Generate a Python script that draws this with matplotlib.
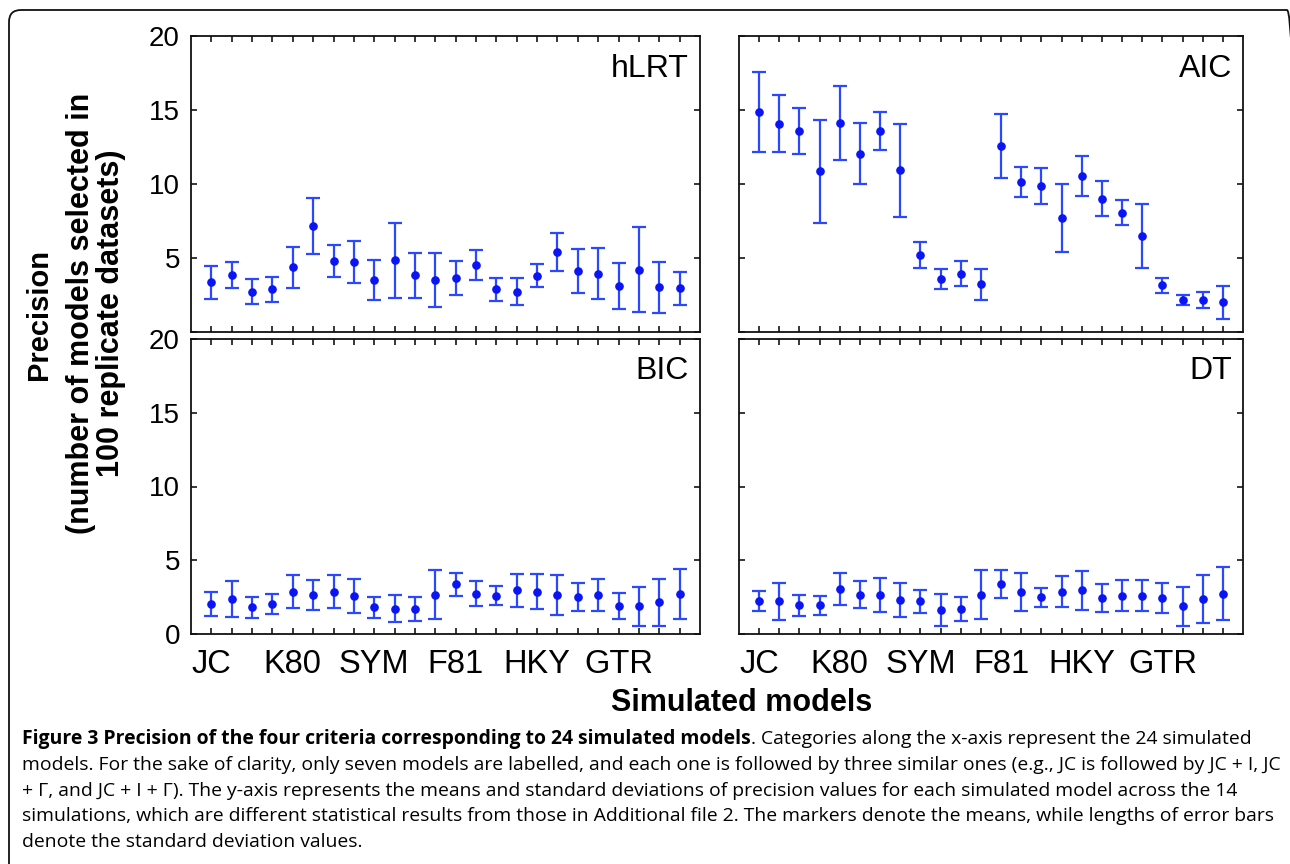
import matplotlib
matplotlib.use('Agg')
import matplotlib.pyplot as plt
from matplotlib.patches import FancyBboxPatch
from matplotlib.transforms import IdentityTransform
import numpy as np

# ---------------- data ----------------
base_models = ['JC', 'K80', 'SYM', 'F81', 'HKY', 'GTR']
variants = ['', ' + I', ' + Γ', ' + I + Γ']
models = [b + v for b in base_models for v in variants]
tick_labels = [m if m in base_models else '' for m in models]

hlrt_mean = [3.36, 3.85, 2.73, 2.88, 4.37, 7.14, 4.80, 4.73, 3.51, 4.84, 3.85, 3.51,
             3.67, 4.53, 2.88, 2.73, 3.81, 5.43, 4.14, 3.94, 3.11, 4.21, 3.02, 2.95]
hlrt_sd = [1.13, 0.87, 0.84, 0.86, 1.38, 1.89, 1.06, 1.45, 1.35, 2.52, 1.52, 1.82,
           1.16, 1.03, 0.76, 0.90, 0.78, 1.28, 1.50, 1.72, 1.57, 2.89, 1.72, 1.13]

aic_mean = [14.84, 14.08, 13.58, 10.86, 14.12, 12.05, 13.58, 10.92, 5.20, 3.58, 3.94, 3.22,
            12.57, 10.14, 9.86, 7.70, 10.56, 9.01, 8.06, 6.49, 3.15, 2.16, 2.16, 2.00]
aic_sd = [2.71, 1.90, 1.54, 3.48, 2.49, 2.08, 1.29, 3.16, 0.89, 0.66, 0.83, 1.06,
          2.16, 1.04, 1.24, 2.31, 1.34, 1.16, 0.83, 2.15, 0.53, 0.36, 0.53, 1.11]

bic_mean = [2.03, 2.36, 1.80, 2.03, 2.86, 2.66, 2.86, 2.59, 1.80, 1.71, 1.71, 2.66,
            3.36, 2.73, 2.59, 2.95, 2.88, 2.66, 2.52, 2.66, 1.87, 1.87, 2.14, 2.73]
bic_sd = [0.79, 1.23, 0.71, 0.70, 1.11, 1.01, 1.11, 1.16, 0.71, 0.92, 0.83, 1.66,
          0.75, 0.83, 0.65, 1.14, 1.17, 1.34, 0.93, 1.08, 0.88, 1.31, 1.57, 1.69]

dt_mean = [2.23, 2.23, 1.94, 1.94, 3.06, 2.66, 2.66, 2.30, 2.21, 1.64, 1.71, 2.66,
           3.36, 2.86, 2.50, 2.86, 2.95, 2.43, 2.59, 2.59, 2.43, 1.87, 2.36, 2.73]
dt_sd = [0.70, 1.25, 0.73, 0.62, 1.07, 0.93, 1.17, 1.15, 0.80, 1.09, 0.83, 1.66,
         0.95, 1.28, 0.65, 1.04, 1.33, 0.97, 1.04, 1.04, 1.04, 1.30, 1.64, 1.78]

panel_names = ['hLRT', 'AIC', 'BIC', 'DT']
# --------------------------------------

W, H = 1290, 864
fig = plt.figure(figsize=(W / 100, H / 100), dpi=100)
fig.patch.set_facecolor('white')

SANS = ['Liberation Sans', 'DejaVu Sans']

def px_axes(x0, y0, x1, y1):
    return fig.add_axes([x0 / W, 1 - y1 / H, (x1 - x0) / W, (y1 - y0) / H])

axes = [px_axes(191, 36, 700, 332), px_axes(739, 36, 1243, 332),
        px_axes(191, 339, 700, 634), px_axes(739, 339, 1243, 634)]
series = [(hlrt_mean, hlrt_sd), (aic_mean, aic_sd), (bic_mean, bic_sd), (dt_mean, dt_sd)]

xpos = np.arange(1, len(models) + 1)
for i, (ax, (m, s), name) in enumerate(zip(axes, series, panel_names)):
    ax.errorbar(xpos, m, yerr=s, fmt='o', color='#0a14f5', ecolor='#2a48ff',
                elinewidth=1.6, capsize=5, capthick=1.6, markersize=5.2, zorder=3)
    ax.set_xlim(0, 25)
    ax.set_ylim(0, 20)
    for sp in ax.spines.values():
        sp.set_linewidth(1.3)
        sp.set_color('#111111')
    ax.set_xticks(xpos)
    ax.set_yticks([0, 5, 10, 15, 20])
    ax.tick_params(direction='in', top=True, right=True, length=4.5, width=1.1,
                   labelsize=20, pad=8)
    ax.tick_params(axis='x', pad=11, labelsize=23.5)
    if i >= 2:
        ax.set_xticklabels(tick_labels, fontfamily=SANS)
    else:
        ax.set_xticklabels([])
    if i % 2 == 0:
        labs = ['0', '5', '10', '15', '20'] if i == 2 else ['', '5', '10', '15', '20']
        ax.set_yticklabels(labs, fontfamily=SANS)
    else:
        ax.set_yticklabels([])
    ax.text(0.978, 0.89, name, transform=ax.transAxes, ha='right', va='center',
            fontsize=23, fontfamily=SANS)

# axis labels
fig.text(39 / W, 1 - 315 / H, 'Precision', rotation=90, ha='center', va='center',
         fontsize=21, fontweight='bold', fontfamily=SANS)
fig.text(96 / W, 1 - 313 / H, '(number of models selected in\n100 replicate datasets)',
         rotation=90, ha='center', va='center', fontsize=22, fontweight='bold',
         fontfamily=SANS, linespacing=1.0)
fig.text(742 / W, 1 - 703 / H, 'Simulated models', ha='center', va='center',
         fontsize=22, fontweight='bold', fontfamily=SANS)

# caption
CAP = ['Open Sans', 'DejaVu Sans']
bold_part = 'Figure 3 Precision of the four criteria corresponding to 24 simulated models'
lines = [
    '. Categories along the x-axis represent the 24 simulated',
    'models. For the sake of clarity, only seven models are labelled, and each one is followed by three similar ones (e.g., JC is followed by JC + I, JC',
    '+ Γ, and JC + I + Γ). The y-axis represents the means and standard deviations of precision values for each simulated model across the 14',
    'simulations, which are different statistical results from those in Additional file 2. The markers denote the means, while lengths of error bars',
    'denote the standard deviation values.',
]
renderer = fig.canvas.get_renderer()
probe = fig.text(0, 0, lines[1], fontsize=12, fontfamily=CAP)
wprobe = probe.get_window_extent(renderer).width
probe.remove()
cap_fs = 12 * 1256 / wprobe
x0 = 22
ys = [739, 765, 791, 816, 842]
tb = fig.text(x0 / W, 1 - ys[0] / H, bold_part, fontsize=cap_fs, fontweight='bold',
              fontfamily=CAP, va='center', ha='left')
wb = tb.get_window_extent(renderer).width
fig.text((x0 + wb) / W, 1 - ys[0] / H, lines[0], fontsize=cap_fs, fontfamily=CAP,
         va='center', ha='left')
for ln, y in zip(lines[1:], ys[1:]):
    fig.text(x0 / W, 1 - y / H, ln, fontsize=cap_fs, fontfamily=CAP, va='center', ha='left')

# rounded border (extends past right and bottom edges like the reference)
border = FancyBboxPatch((9, -12), 1290, 866,
                        boxstyle='round,pad=0,rounding_size=12',
                        transform=IdentityTransform(), fill=False, lw=1.3,
                        edgecolor='#111111', clip_on=False)
fig.add_artist(border)

fig.savefig('out.png', dpi=100)
